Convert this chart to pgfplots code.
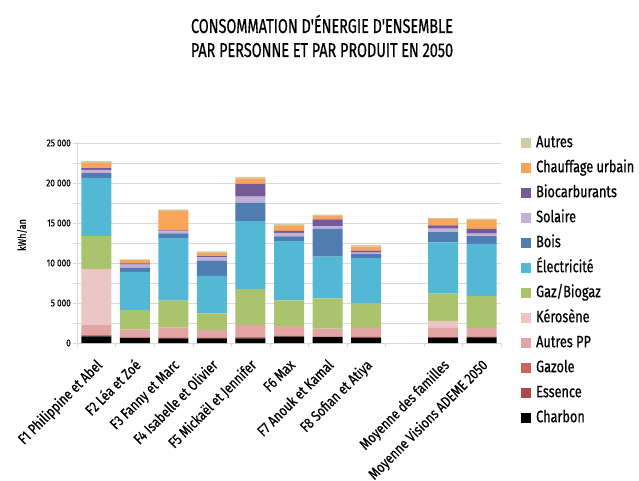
\documentclass[border=0pt]{standalone}
\usepackage{pgfplots}
\pgfplotsset{compat=1.18}
\usepackage{fontspec}
\setmainfont[FakeStretch=0.82, FakeBold=0.6]{Fira Sans}
\newfontfamily\titlefont[FakeStretch=0.72, FakeBold=0.6]{Fira Sans}
\newfontfamily\legfont[FakeStretch=0.77, FakeBold=0.6]{Fira Sans}
\definecolor{cCharbon}{HTML}{000000}
\definecolor{cEssence}{HTML}{A94B48}
\definecolor{cGazole}{HTML}{CD625A}
\definecolor{cAutresPP}{HTML}{E2A5A4}
\definecolor{cKerosene}{HTML}{ECC6C5}
\definecolor{cGaz}{HTML}{A9C46C}
\definecolor{cElec}{HTML}{53B8D3}
\definecolor{cBois}{HTML}{4F7DB2}
\definecolor{cSolaire}{HTML}{C2B1D6}
\definecolor{cBiocarb}{HTML}{765A98}
\definecolor{cChauffage}{HTML}{F6A55B}
\definecolor{cAutres}{HTML}{D2CBA5}
\definecolor{cGrid}{HTML}{D9D9D9}
\begin{document}
\begin{tikzpicture}
\path[use as bounding box] (0pt,0pt) rectangle (639pt,480pt);
\node[font=\titlefont\fontsize{20}{24}\selectfont, align=center] at (322pt,444pt) {CONSOMMATION D'ÉNERGIE D'ENSEMBLE\\PAR PERSONNE ET PAR PRODUIT EN 2050};
\node[font=\fontsize{11}{12}\selectfont, rotate=90] at (22pt,245pt) {kWh/an};
\begin{axis}[
  at={(77pt,137pt)}, anchor=south west, scale only axis,
  width=424pt, height=200pt,
  ybar stacked, bar width=30pt,
  xmin=-0.5, xmax=10.5, ymin=0, ymax=25000,
  scaled y ticks=false,
  xtick={0,...,10},
  xticklabels={F1 Philippine et Abel,F2 Léa et Zoé,F3 Fanny et Marc,F4 Isabelle et Olivier,F5 Mickaël et Jennifer,F6 Max,F7 Anouk et Kamal,F8 Sofian et Atiya,,Moyenne des familles,Moyenne Visions ADEME 2050},
  minor xtick={-0.5,0.5,...,10.5},
  major x tick style={draw=none},
  minor x tick style={draw=cGrid},
  ytick={0,5000,...,25000},
  yticklabels={0,5 000,10 000,15 000,20 000,25 000},
  minor ytick={2500,7500,...,22500},
  ymajorgrids, yminorgrids,
  grid style={draw=cGrid, line width=0.8pt},
  minor grid style={draw=cGrid, line width=0.8pt},
  tick align=outside, major tick length=4pt, minor tick length=4pt,
  y tick style={draw=cGrid},
  axis x line*=bottom, axis y line*=left,
  axis line style={-, draw=cGrid, line width=0.8pt},
  xticklabel style={xshift=7pt, yshift=-19pt, rotate=45, anchor=base east, font=\fontsize{14.8}{16}\selectfont, inner sep=0pt},
  yticklabel style={font=\fontsize{10}{11}\selectfont, inner xsep=2pt},
  legend style={at={(1.04,1.05)}, anchor=north west, draw=none, fill=none,
    font=\legfont\fontsize{16.5}{18}\selectfont, row sep=10pt, column sep=3pt,
    nodes={text height=12pt, text depth=3pt, inner ysep=0pt}},
  legend cell align=left,
  reverse legend,
  legend image code/.code={\fill[#1] (0pt,-5pt) rectangle (10pt,5pt);},
  every axis plot/.append style={draw=none},
]
\addplot[fill=cCharbon] coordinates {(0,830) (1,630) (2,580) (3,580) (4,580) (5,800) (6,750) (7,670) (8,0) (9,670) (10,700)};
\addplot[fill=cEssence] coordinates {(0,120) (1,50) (2,100) (3,50) (4,120) (5,60) (6,60) (7,100) (8,0) (9,80) (10,60)};
\addplot[fill=cGazole] coordinates {(0,50) (1,20) (2,30) (3,20) (4,50) (5,30) (6,30) (7,30) (8,0) (9,40) (10,30)};
\addplot[fill=cAutresPP] coordinates {(0,1250) (1,1000) (2,1200) (3,950) (4,1500) (5,1250) (6,950) (7,1100) (8,0) (9,1100) (10,1100)};
\addplot[fill=cKerosene] coordinates {(0,7000) (1,0) (2,0) (3,0) (4,0) (5,0) (6,0) (7,0) (8,0) (9,880) (10,0)};
\addplot[fill=cGaz] coordinates {(0,4100) (1,2400) (2,3400) (3,2100) (4,4500) (5,3200) (6,3800) (7,3100) (8,0) (9,3400) (10,4000)};
\addplot[fill=cElec] coordinates {(0,7300) (1,4800) (2,7800) (3,4700) (4,8500) (5,7400) (6,5200) (7,5600) (8,0) (9,6400) (10,6500)};
\addplot[fill=cBois] coordinates {(0,600) (1,500) (2,580) (3,1900) (4,2300) (5,580) (6,3500) (7,500) (8,0) (9,1300) (10,960)};
\addplot[fill=cSolaire] coordinates {(0,400) (1,400) (2,250) (3,400) (4,750) (5,450) (6,330) (7,200) (8,0) (9,420) (10,330)};
\addplot[fill=cBiocarb] coordinates {(0,200) (1,150) (2,150) (3,150) (4,1600) (5,250) (6,830) (7,250) (8,0) (9,420) (10,580)};
\addplot[fill=cChauffage] coordinates {(0,670) (1,400) (2,2400) (3,400) (4,670) (5,670) (6,420) (7,500) (8,0) (9,800) (10,1100)};
\addplot[fill=cAutres] coordinates {(0,200) (1,100) (2,200) (3,200) (4,200) (5,170) (6,170) (7,170) (8,0) (9,120) (10,200)};
\legend{Charbon,Essence,Gazole,Autres PP,Kérosène,Gaz/Biogaz,Électricité,Bois,Solaire,Biocarburants,Chauffage urbain,Autres}
\end{axis}
\end{tikzpicture}
\end{document}
